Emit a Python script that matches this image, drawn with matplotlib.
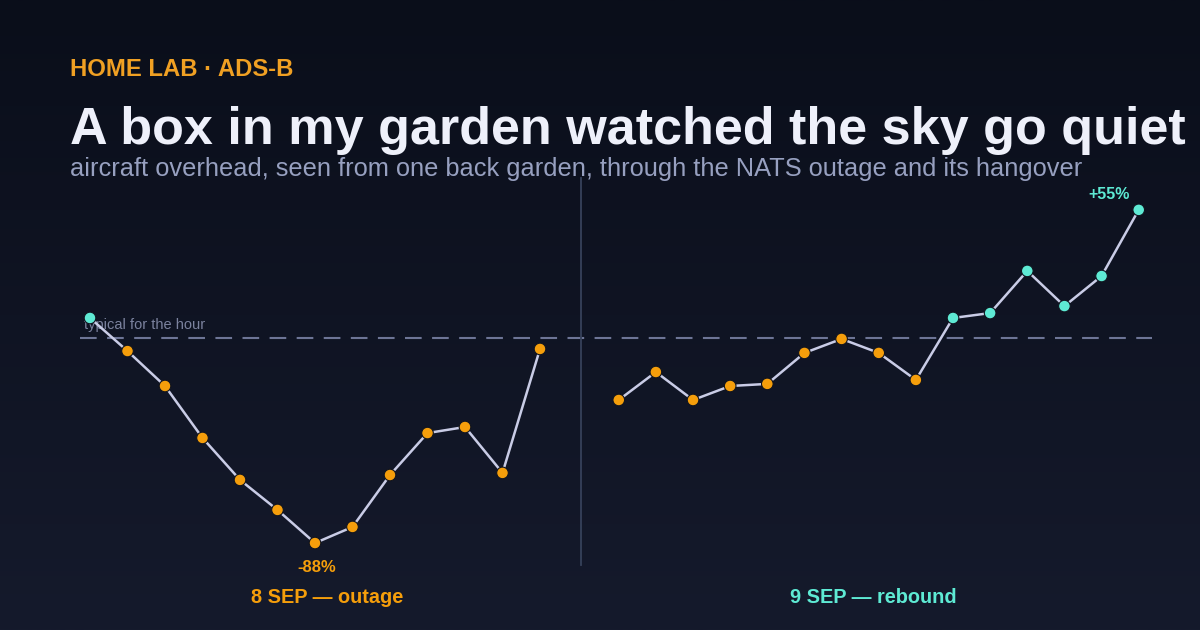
import numpy as np
import matplotlib.pyplot as plt
from matplotlib.colors import LinearSegmentedColormap

plt.rcParams["font.family"] = ["Liberation Sans", "DejaVu Sans"]

# % difference vs typical aircraft count for the hour
sep8_vals = [8.6, -5.6, -20.6, -42.9, -60.9, -73.8, -88, -81.1, -58.8, -40.8, -38.2, -57.9, -4.7]
sep9_vals = [-26.6, -14.6, -26.6, -20.6, -19.7, -6.4, -0.4, -6.4, -18.0, 8.6, 10.7, 28.8, 13.7, 26.6, 55]
panel_labels = ["8 SEP \u2014 outage", "9 SEP \u2014 rebound"]

ORANGE = "#f59e0b"
TEAL = "#5eead4"
LINE = "#c9cce6"
W, H = 1200, 630


def px(x, y):
    """pixel (from top-left) -> figure fraction"""
    return x / W, 1 - y / H


fig = plt.figure(figsize=(12, 6.3), dpi=100)

# background gradient
bg = fig.add_axes([0, 0, 1, 1], zorder=-1)
cmap = LinearSegmentedColormap.from_list("bg", ["#0a0e1a", "#151a2c"])
bg.imshow(np.linspace(0, 1, 256).reshape(-1, 1), aspect="auto", cmap=cmap, extent=[0, 1, 0, 1])
bg.axis("off")

# data axes: x index -> 37.5 px per step starting at px 90, y% -> 2.33 px per % with 0 at px 338
ax = fig.add_axes([0, 0, 1, 1])
ax.set_xlim(-90 / 37.5, (W - 90) / 37.5)
ax.set_ylim(-(H - 338) / 2.33, 338 / 2.33)
ax.axis("off")
ax.patch.set_alpha(0)

gap = 14.1
x9_step = 37.14 / 37.5
x8 = np.arange(len(sep8_vals))
x9 = gap + x9_step * np.arange(len(sep9_vals))

# typical baseline + divider
ax.plot([-0.27, 28.32], [0, 0], color="#6d7596", lw=1.5, dashes=(8, 5), zorder=1)
ax.plot([13.09, 13.09], [(338 - 178) / 2.33, (338 - 565) / 2.33], color="#36415a", lw=1.3, zorder=1)
ax.text(-0.16, 3.8, "typical for the hour", color="#7b829e", fontsize=10.5, va="baseline", zorder=2)

for xs, vals in [(x8, sep8_vals), (x9, sep9_vals)]:
    vals = np.array(vals)
    ax.plot(xs, vals, color=LINE, lw=1.8, zorder=3)
    cols = [TEAL if v > 0 else ORANGE for v in vals]
    ax.scatter(xs, vals, s=70, c=cols, edgecolors="#10141f", linewidths=0.8, zorder=4)

i_min = int(np.argmin(sep8_vals))
ax.annotate(f"{sep8_vals[i_min]:.0f}%", (x8[i_min], sep8_vals[i_min]), xytext=(1.0, -21),
            textcoords="offset points", ha="center", va="baseline",
            color=ORANGE, fontsize=12, fontweight="bold")
i_max = int(np.argmax(sep9_vals))
ax.annotate(f"+{sep9_vals[i_max]:.0f}%", (x9[i_max], sep9_vals[i_max]), xytext=(-21.5, 8),
            textcoords="offset points", ha="center", va="baseline",
            color=TEAL, fontsize=11.5, fontweight="bold")

# panel labels
fig.text(*px(327, 603), panel_labels[0], color=ORANGE, fontsize=14.3, fontweight="bold",
         ha="center", va="baseline")
fig.text(*px(873, 603), panel_labels[1], color=TEAL, fontsize=14.3, fontweight="bold",
         ha="center", va="baseline")

# header
fig.text(*px(70, 76), "HOME LAB \u00b7 ADS-B", color="#f0a023", fontsize=17.2, fontweight="bold",
         va="baseline")
fig.text(*px(70, 144), "A box in my garden watched the sky go quiet", color="#eef0fa",
         fontsize=37.5, fontweight="bold", va="baseline")
fig.text(*px(70, 176),
         "aircraft overhead, seen from one back garden, through the NATS outage and its hangover",
         color="#97a0c0", fontsize=18.3, va="baseline")

fig.savefig("out.png", dpi=100)
